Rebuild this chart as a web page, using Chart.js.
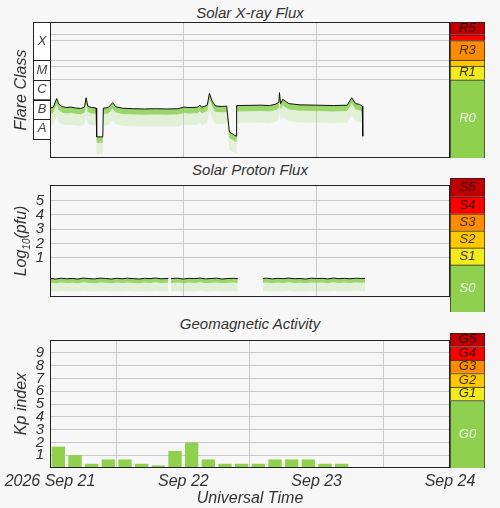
<!DOCTYPE html>
<html>
<head>
<meta charset="utf-8">
<script src="https://cdn.jsdelivr.net/npm/chart.js@4"></script>
<style>
  body { margin: 0; background: #f7f7f7; font-family: "Liberation Sans", Arial, sans-serif; }
  #page { position: relative; width: 500px; height: 508px; overflow: hidden; }
  canvas { position: absolute; }
  .ttl { position: absolute; left: 50px; width: 400px; text-align: center; font-style: italic; font-size: 15px; color: #333; }
</style>
</head>
<body>
<div id="page">
  <div class="ttl" style="top:4px">Solar X-ray Flux</div>
  <div class="ttl" style="top:161px">Solar Proton Flux</div>
  <div class="ttl" style="top:315px">Geomagnetic Activity</div>
  <canvas id="xray" style="left:0;top:0" width="500" height="158"></canvas>
  <canvas id="proton" style="left:0;top:170px" width="500" height="142"></canvas>
  <canvas id="kp" style="left:0;top:325px" width="500" height="183"></canvas>
  <canvas id="xrayScale" style="left:450px;top:22px" width="35" height="136"></canvas>
  <canvas id="protonScale" style="left:450px;top:178px" width="35" height="134"></canvas>
  <canvas id="kpScale" style="left:450px;top:333px" width="35" height="135"></canvas>
</div>
<script>
// hours since 2026 Sep 21 00:00 UT
const dayTicks = [0, 24, 48, 72];
const dayLabels = ["2026 Sep 21", "Sep 22", "Sep 23", "Sep 24"];

// X-ray flux (W/m2)
const xrayHours = [0, 0.6, 1.2, 1.6, 2.2, 3, 3.8, 4.6, 5.5, 6.2, 6.5, 6.8, 7.5, 8.3, 8.4, 9.5, 9.6, 10.5, 11.3, 11.8, 13, 15, 17, 19, 21, 23,
  24.1, 25, 26.5, 27, 27.3, 28.3, 28.7, 29.2, 29.8, 31, 31.8, 32.3, 33.5, 33.6, 36, 38, 39.5, 40.5, 41.2, 41.3, 41.5, 41.9, 43, 45,
  48, 51, 53.5, 54.3, 55, 55.7, 56.2, 56.3];
const xrayFlux = [3.5e-7, 4.0e-7, 1.1e-6, 5.5e-7, 4.2e-7, 3.8e-7, 4.0e-7, 3.6e-7, 3.4e-7, 4.0e-7, 1.2e-6, 4.5e-7, 3.8e-7, 3.6e-7, 1.2e-8, 1.2e-8, 3.5e-7, 3.8e-7, 6.8e-7, 4.2e-7, 3.5e-7, 3.3e-7, 3.2e-7, 3.3e-7, 3.2e-7, 3.3e-7,
  4.0e-7, 3.8e-7, 3.9e-7, 5.0e-7, 3.9e-7, 5.0e-7, 2.0e-6, 8.0e-7, 4.5e-7, 4.3e-7, 4.5e-7, 2.1e-8, 1.3e-8, 4.8e-7, 4.9e-7, 5.0e-7, 4.8e-7, 5.5e-7, 7.0e-7, 2.2e-6, 6.0e-7, 1.0e-6, 6.0e-7, 5.2e-7,
  5.0e-7, 4.8e-7, 5.0e-7, 1.2e-6, 6.0e-7, 5.5e-7, 4.5e-7, 1.3e-8];
const flareClasses = ["A", "B", "C", "M", "X"];
const flareBounds = [-8, -7, -6, -5, -4, -2.05];
const xrayGrid = [-5, -4.3, -4, -3, -2.7];
const rNames = ["R0", "R1", "", "R3", "", "R5"];
const rWidths = [4, 0.7, 0.3, 1, 0.3, 0.65];

// Proton flux, log10(pfu); null = data gap
const protonHours = [0, 1, 2, 3, 4, 5, 6, 7, 8, 9, 10, 11, 12, 13, 14, 15, 16, 17, 18, 19, 20, 21.3, 21.5, 21.8, 23, 24, 25, 26, 27, 28, 29, 30, 31, 32, 33, 33.8, 36,
  38.3, 39, 40, 41, 42, 43, 44, 45, 46, 47, 48, 49, 50, 51, 52, 53, 54, 55, 56, 56.7];
const protonLog = [-0.45, -0.5, -0.44, -0.48, -0.46, -0.5, -0.43, -0.47, -0.49, -0.44, -0.46, -0.5, -0.45, -0.48, -0.44, -0.47, -0.5, -0.45, -0.47, -0.43, -0.48, -0.46, null, -0.47, -0.44, -0.5, -0.45, -0.47, -0.43, -0.49, -0.46, -0.44, -0.5, -0.46, -0.45, -0.47, null,
  -0.46, -0.44, -0.49, -0.45, -0.47, -0.43, -0.48, -0.46, -0.5, -0.44, -0.46, -0.45, -0.49, -0.43, -0.47, -0.45, -0.48, -0.44, -0.46, -0.45];
const protonTicks = [1, 2, 3, 4, 5];
const sNames = ["S0", "S1", "S2", "S3", "S4", "S5"];
const sWidths = [2.76, 1, 1, 1, 1, 1.1];

// Planetary Kp, 3-hour bins
const kpHours = [1.5, 4.5, 7.5, 10.5, 13.5, 16.5, 19.5, 22.5, 25.5, 28.5, 31.5, 34.5, 37.5, 40.5, 43.5, 46.5, 49.5, 52.5];
const kpValues = [1.67, 1, 0.33, 0.67, 0.67, 0.33, 0.2, 1.33, 2, 0.67, 0.33, 0.33, 0.33, 0.67, 0.67, 0.67, 0.33, 0.33];
const kpTicks = [1, 2, 3, 4, 5, 6, 7, 8, 9];
const gNames = ["G0", "G1", "G2", "G3", "G4", "G5"];
const gWidths = [5, 1, 1, 1, 1, 1];

const scaleColors = ["#8fd14f", "#f2ea1d", "#ffc800", "#ff8c00", "#ff0000", "#c00000"];
const green = "#8fd14f";
const gridColor = "#c8c8c8";
const font = { family: "Liberation Sans", style: "italic", size: 15 };

// frame + left axis title
function framePlugin(title, sub) {
  return {
    id: "frame",
    afterDraw(chart) {
      const a = chart.chartArea, ctx = chart.ctx;
      ctx.save();
      ctx.strokeStyle = "#222";
      ctx.lineWidth = 1;
      ctx.strokeRect(a.left + 0.5, a.top + 0.5, a.right - a.left - 1, a.bottom - a.top - 1);
      ctx.translate(22, (a.top + a.bottom) / 2);
      ctx.rotate(-Math.PI / 2);
      ctx.fillStyle = "#333";
      ctx.font = "italic 16px 'Liberation Sans'";
      ctx.textAlign = "center";
      ctx.textBaseline = "middle";
      if (sub) {
        const w1 = ctx.measureText(title[0]).width;
        ctx.font = "italic 10px 'Liberation Sans'";
        const w2 = ctx.measureText(sub).width;
        ctx.font = "italic 16px 'Liberation Sans'";
        const w3 = ctx.measureText(title[1]).width;
        let x = -(w1 + w2 + w3) / 2;
        ctx.textAlign = "left";
        ctx.fillText(title[0], x, 0);
        ctx.font = "italic 10px 'Liberation Sans'";
        ctx.fillText(sub, x + w1, 5);
        ctx.font = "italic 16px 'Liberation Sans'";
        ctx.fillText(title[1], x + w1 + w2, 0);
      } else {
        ctx.fillText(title, 0, 0);
      }
      ctx.restore();
    }
  };
}

const flareBoxes = {
  id: "flareBoxes",
  afterDraw(chart) {
    const y = chart.scales.y, ctx = chart.ctx;
    ctx.save();
    ctx.strokeStyle = "#222";
    ctx.fillStyle = "#fff";
    for (let i = 0; i < flareClasses.length; i++) {
      const t = y.getPixelForValue(flareBounds[i + 1]), b = y.getPixelForValue(flareBounds[i]);
      ctx.fillRect(33, t, 17, b - t);
      ctx.strokeRect(33.5, Math.round(t) + 0.5, 17, Math.round(b - t));
      ctx.fillStyle = "#444";
      ctx.font = "italic 13px 'Liberation Sans'";
      ctx.textAlign = "center";
      ctx.textBaseline = "middle";
      ctx.fillText(flareClasses[i], 42, (t + b) / 2);
      ctx.fillStyle = "#fff";
    }
    ctx.restore();
  }
};

function xAxis(showLabels) {
  return {
    type: "linear", min: 0, max: 72,
    afterBuildTicks: s => { s.ticks = dayTicks.map(v => ({ value: v })); },
    afterFit: s => { s.height = showLabels ? 40 : 0; },
    grid: { color: gridColor, drawTicks: false },
    border: { display: false },
    ticks: {
      display: showLabels, autoSkip: false, maxRotation: 0, padding: 4,
      color: "#333", font: { ...font, size: 16 },
      callback: v => dayLabels[dayTicks.indexOf(v)]
    },
    title: { display: showLabels, text: "Universal Time", color: "#333", font: { ...font, size: 16 }, padding: 0 }
  };
}

function fadeSets(xs, ys, d1, d2) {
  const pts = off => xs.map((x, i) => ({ x, y: ys[i] === null ? null : ys[i] - off }));
  return [
    { data: pts(0), borderColor: "#111", borderWidth: 1, pointRadius: 0, fill: false, order: 0 },
    { data: pts(d1), borderWidth: 0, pointRadius: 0, fill: "-1", backgroundColor: "rgba(130,205,70,0.8)", order: 1 },
    { data: pts(d2), borderWidth: 0, pointRadius: 0, fill: "-1", backgroundColor: "rgba(160,220,110,0.22)", order: 2 }
  ];
}

const common = {
  responsive: false, animation: false,
  plugins: { legend: { display: false }, tooltip: { enabled: false } }
};

new Chart(document.getElementById("xray"), {
  type: "line",
  data: { datasets: fadeSets(xrayHours, xrayFlux.map(f => Math.log10(f)), 0.3, 0.9) },
  options: {
    ...common,
    layout: { padding: { top: 22, right: 50 } },
    scales: {
      x: xAxis(false),
      y: {
        min: -9, max: -2.05,
        afterBuildTicks: s => { s.ticks = xrayGrid.map(v => ({ value: v })); },
        afterFit: s => { s.width = 50; },
        grid: { color: gridColor, drawTicks: false },
        border: { display: false },
        ticks: { display: false }
      }
    }
  },
  plugins: [framePlugin("Flare Class"), flareBoxes]
});

new Chart(document.getElementById("proton"), {
  type: "line",
  data: { datasets: fadeSets(protonHours, protonLog, 0.3, 0.9) },
  options: {
    ...common,
    layout: { padding: { top: 8, right: 50 } },
    scales: {
      x: xAxis(false),
      y: {
        min: -1.76, max: 6.1,
        afterBuildTicks: s => { s.ticks = protonTicks.map(v => ({ value: v })); },
        afterFit: s => { s.width = 50; },
        grid: { color: gridColor, drawTicks: false },
        border: { display: false },
        ticks: { color: "#333", font: { ...font, size: 15 }, padding: 6, autoSkip: false }
      }
    }
  },
  plugins: [framePlugin(["Log", "(pfu)"], "10")]
});

new Chart(document.getElementById("kp"), {
  type: "bar",
  data: {
    datasets: [{
      data: kpHours.map((x, i) => ({ x, y: kpValues[i] })),
      backgroundColor: green, barPercentage: 0.8, categoryPercentage: 1
    }]
  },
  options: {
    ...common,
    layout: { padding: { top: 8, right: 50 } },
    scales: {
      x: { ...xAxis(true), offset: false },
      y: {
        min: 0, max: 10,
        afterBuildTicks: s => { s.ticks = kpTicks.map(v => ({ value: v })); },
        afterFit: s => { s.width = 50; },
        grid: { color: gridColor, drawTicks: false },
        border: { display: false },
        ticks: { color: "#333", font: { ...font, size: 15 }, padding: 6, autoSkip: false }
      }
    }
  },
  plugins: [framePlugin("Kp index")]
});

// coloured scale columns on the right
function scaleColumn(id, names, widths) {
  const total = widths.reduce((a, b) => a + b, 0);
  new Chart(document.getElementById(id), {
    type: "bar",
    data: {
      labels: [""],
      datasets: widths.map((w, i) => ({
        data: [w], backgroundColor: scaleColors[i], borderColor: "#222", borderWidth: 1,
        barPercentage: 1, categoryPercentage: 1
      }))
    },
    options: {
      ...common,
      layout: { padding: 0 },
      scales: {
        x: { stacked: true, display: false },
        y: { stacked: true, display: false, min: 0, max: total }
      }
    },
    plugins: [{
      id: "names",
      afterDraw(chart) {
        const ctx = chart.ctx;
        ctx.save();
        ctx.font = "italic 13px 'Liberation Sans'";
        ctx.textAlign = "center";
        ctx.textBaseline = "middle";
        chart.data.datasets.forEach((d, i) => {
          if (!names[i]) return;
          const el = chart.getDatasetMeta(i).data[0];
          ctx.fillStyle = i === 0 ? "#eef7e4" : (i >= 4 ? "#300" : "#3a3000");
          ctx.fillText(names[i], el.x, (el.y + el.base) / 2);
        });
        ctx.restore();
      }
    }]
  });
}
scaleColumn("xrayScale", rNames, rWidths);
scaleColumn("protonScale", sNames, sWidths);
scaleColumn("kpScale", gNames, gWidths);
</script>
</body>
</html>
